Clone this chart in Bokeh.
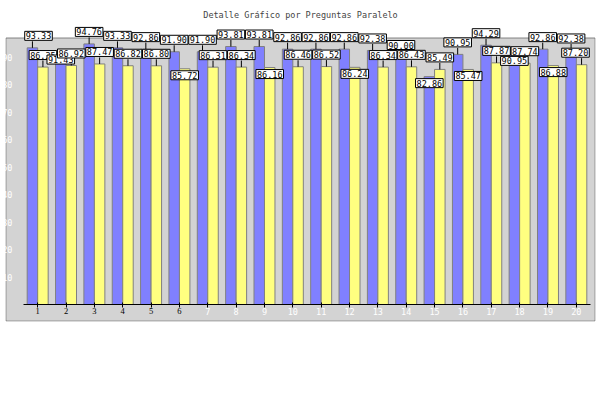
from bokeh.plotting import figure
from bokeh.models import (ColumnDataSource, Range1d, FixedTicker, LabelSet, Label,
                          BoxAnnotation)
from bokeh.transform import dodge
from bokeh.embed import file_html
from bokeh.resources import INLINE

TITLE = "Detalle Gráfico por Preguntas Paralelo"
categories = ["1", "2", "3", "4", "5", "6", "7", "8", "9", "10",
              "11", "12", "13", "14", "15", "16", "17", "18", "19", "20"]
serie_azul = [93.33, 91.43, 94.76, 93.33, 92.86, 91.90, 91.90, 93.81, 93.81, 92.86,
              92.86, 92.86, 92.38, 90.00, 82.86, 90.95, 94.29, 90.95, 92.86, 92.38]
serie_amarilla = [86.35, 86.92, 87.47, 86.82, 86.80, 85.72, 86.31, 86.34, 86.16, 86.46,
                  86.52, 86.24, 86.34, 86.43, 85.49, 85.47, 87.87, 87.74, 86.88, 87.20]
y_ticks = [10, 20, 30, 40, 50, 60, 70, 80, 90]
# label placement (above / below the bar top) as in the original
lado_azul = ["up", "down", "up", "up", "up", "up", "up", "up", "up", "up",
             "up", "up", "up", "up", "down", "up", "up", "down", "up", "up"]
lado_amarillo = ["up", "up", "up", "up", "up", "down", "up", "up", "down", "up",
                 "up", "down", "up", "up", "up", "down", "up", "up", "down", "up"]
# x-axis labels drawn in black (the rest are white)
n_black_labels = 6

FONT = "DejaVu Sans Mono"
FS = "8.5px"
GREY = "#D3D3D3"

# ---- pixel layout (canvas coordinates) ----
W, H = 600, 340
FT, FB = 20, 330            # frame top / bottom
X0_PX, X1_PX = 23, 590      # where the category band starts / ends
Y0_PX = 304                 # where value 0 sits
PANEL_L, PANEL_R, PANEL_T, PANEL_B = 5.5, 594.5, 37.5, 320.5
n = len(categories)
ppx = (X1_PX - X0_PX) / n
ppu = 2.75
x_start = 0.5 - X0_PX / ppx
x_end = n + 0.5 + (W - X1_PX) / ppx
y_end = (Y0_PX - FT) / ppu
y_start = -(FB - Y0_PX) / ppu


def px_to_x(px):
    return x_start + px / ppx


def px_to_y(py):
    return (Y0_PX - py) / ppu


DODGE = 0.185
BAR_W = 0.37

xs = list(range(1, n + 1))
bars = ColumnDataSource(dict(x=xs, azul=serie_azul, amarilla=serie_amarilla))

p = figure(width=W, height=H, x_range=Range1d(x_start, x_end),
           y_range=Range1d(y_start, y_end), output_backend="svg", toolbar_location=None,
           min_border_left=0, min_border_right=0, min_border_top=FT,
           min_border_bottom=H - FB, title=TITLE)
p.background_fill_color = "white"
p.border_fill_color = "white"
p.outline_line_color = None
p.grid.visible = False

panel = BoxAnnotation(left=px_to_x(PANEL_L), right=px_to_x(PANEL_R),
                      top=px_to_y(PANEL_T), bottom=px_to_y(PANEL_B),
                      fill_color=GREY, fill_alpha=1.0,
                      line_color="black", line_width=1, level="underlay")
p.add_layout(panel)
panel_top = BoxAnnotation(left=px_to_x(PANEL_L), right=px_to_x(PANEL_R),
                          top=px_to_y(PANEL_T), bottom=px_to_y(PANEL_T),
                          fill_alpha=0.0, line_color="#8C8C8C", line_width=1,
                          level="underlay")
p.add_layout(panel_top)

p.title.align = "center"
p.title.text_font = FONT
p.title.text_font_size = FS
p.title.text_font_style = "normal"
p.title.standoff = 2

p.vbar(x=dodge("x", -DODGE, range=p.x_range), top="azul", width=BAR_W, source=bars,
       fill_color="#8080FF", line_color="#808080", line_width=1)
p.vbar(x=dodge("x", DODGE, range=p.x_range), top="amarilla", width=BAR_W, source=bars,
       fill_color="#FFFF80", line_color="#808080", line_width=1)

# axes, drawn inside the frame at fixed positions
xa = p.xaxis[0]
xa.fixed_location = 0
xa.bounds = (0.5, n + 0.5)
xa.ticker = FixedTicker(ticks=xs)
xa.major_label_overrides = {x: ("" if k < n_black_labels else categories[k])
                            for k, x in enumerate(xs)}
xa.major_label_text_color = "white"
xa.major_label_text_font = FONT
xa.major_label_text_font_size = FS
xa.major_label_standoff = 0
xa.axis_line_color = "black"
xa.major_tick_line_color = "black"
xa.major_tick_in = 2
xa.major_tick_out = 3
xa.minor_tick_line_color = None

ya = p.yaxis[0]
ya.fixed_location = 0.5
ya.ticker = FixedTicker(ticks=y_ticks)
ya.major_label_text_color = "white"
ya.major_label_text_font = FONT
ya.major_label_text_font_size = FS
ya.major_label_standoff = 5
ya.axis_line_color = None
ya.major_tick_line_color = None
ya.minor_tick_line_color = None

# black x labels
blk = ColumnDataSource(dict(x=xs[:n_black_labels], y=[0] * n_black_labels,
                            t=categories[:n_black_labels]))
p.add_layout(LabelSet(x="x", y="y", text="t", source=blk, y_offset=-3,
                      text_align="center", text_baseline="top",
                      text_font=FONT, text_font_size=FS, text_color="black"))

# value labels with leader lines
HALF = 14.5
band_w = X1_PX - X0_PX
sx0, sy0, sy1 = [], [], []
labels = []
for i, x in enumerate(xs):
    for val, side, d in ((serie_azul[i], lado_azul[i], -DODGE),
                         (serie_amarilla[i], lado_amarillo[i], DODGE)):
        cx = x + d
        rel = (cx - 0.5) * ppx
        xo = 0.0
        if rel - HALF < 0.5:
            xo = HALF + 0.5 - rel
        elif rel + HALF > band_w - 0.5:
            xo = band_w - 0.5 - HALF - rel
        if side == "up":
            yo = 12
            sx0.append(cx); sy0.append(val); sy1.append(val + 6.5 / ppu)
        else:
            yo = -6.5
        labels.append(Label(x=cx, y=val, text="%.2f" % val, x_offset=xo, y_offset=yo,
                            text_align="center", text_baseline="middle",
                            text_font=FONT, text_font_size=FS, text_color="black",
                            background_fill_color="white", border_line_color="black",
                            border_line_width=1, padding=1))

p.segment(x0="x", y0="y0", x1="x", y1="y1", line_color="black", line_width=1,
          source=ColumnDataSource(dict(x=sx0, y0=sy0, y1=sy1)))
for lb in labels:
    p.add_layout(lb)

open("out.html", "w").write(file_html(p, INLINE))
